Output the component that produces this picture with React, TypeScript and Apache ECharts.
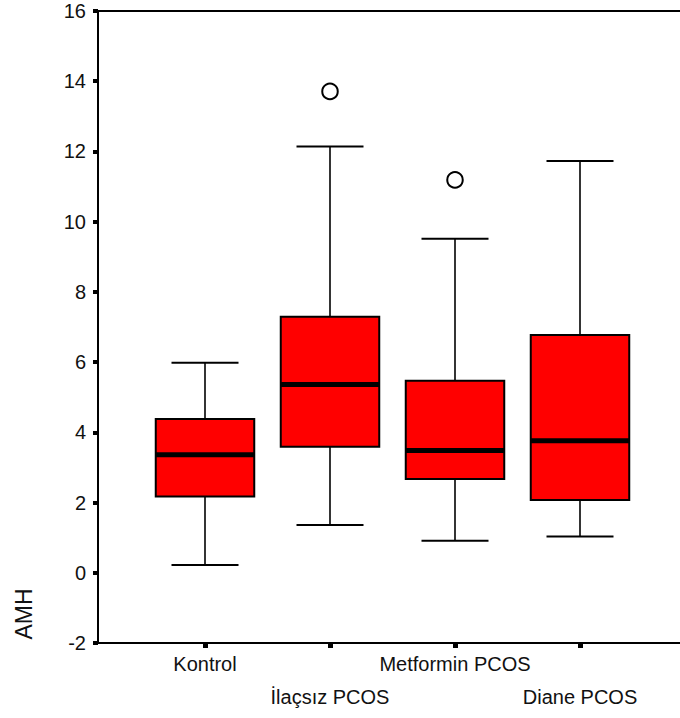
import React, { useEffect, useRef } from "react";
import * as echarts from "echarts";

const categories = ["Kontrol", "İlaçsız PCOS", "Metformin PCOS", "Diane PCOS"];
const whiskerLow = [0.22, 1.36, 0.91, 1.03];
const quartile1 = [2.17, 3.59, 2.67, 2.07];
const medians = [3.36, 5.36, 3.48, 3.76];
const quartile3 = [4.38, 7.29, 5.47, 6.77];
const whiskerHigh = [5.98, 12.14, 9.51, 11.73];
// [category index, value]
const outlierPoints: [number, number][] = [
  [1, 13.71],
  [2, 11.19],
];
const yMin = -2;
const yMax = 16;
const yInterval = 2;

const FONT = "'Liberation Sans', Arial, Helvetica, sans-serif";

export default function App() {
  const ref = useRef<HTMLDivElement>(null);

  useEffect(() => {
    document.body.style.margin = "0";
    if (!ref.current) return;
    const chart = echarts.init(ref.current, undefined, { renderer: "svg" });

    const boxData = categories.map((_, i) => [
      i + 1,
      whiskerLow[i],
      quartile1[i],
      medians[i],
      quartile3[i],
      whiskerHigh[i],
    ]);
    const catPositions = categories.map((_, i) => i + 1);
    const firstRow = catPositions.filter((_, i) => i % 2 === 0);
    const secondRow = catPositions.filter((_, i) => i % 2 === 1);
    const xMin = 1 - 107 / 125;
    const xMax = 4.8;
    const labelFmt = (v: number) => categories[Math.round(v) - 1] ?? "";
    const labelStyle = {
      fontFamily: FONT,
      fontSize: 20,
      color: "#111",
      hideOverlap: false,
    };

    const option: any = {
      animation: false,
      backgroundColor: "#ffffff",
      grid: { left: 98, right: 0, top: 11, bottom: 75, containLabel: false },
      xAxis: [
        {
          type: "value",
          position: "bottom",
          min: xMin,
          max: xMax,
          axisLine: { show: true, onZero: false, lineStyle: { color: "#000", width: 2 } },
          axisTick: {
            show: true,
            customValues: catPositions,
            length: 5,
            inside: false,
            lineStyle: { color: "#000", width: 5 },
          },
          axisLabel: {
            show: true,
            customValues: firstRow,
            margin: 11,
            formatter: labelFmt,
            ...labelStyle,
          },
          splitLine: { show: false },
        },
        {
          type: "value",
          position: "bottom",
          min: xMin,
          max: xMax,
          axisLine: { show: false, onZero: false },
          axisTick: { show: false },
          axisLabel: {
            show: true,
            customValues: secondRow,
            margin: 44,
            formatter: labelFmt,
            ...labelStyle,
          },
          splitLine: { show: false },
        },
        {
          type: "value",
          position: "top",
          min: xMin,
          max: xMax,
          axisLine: { show: true, onZero: false, lineStyle: { color: "#000", width: 2 } },
          axisTick: { show: false },
          axisLabel: { show: false },
          splitLine: { show: false },
        },
      ],
      yAxis: {
        type: "value",
        min: yMin,
        max: yMax,
        interval: yInterval,
        axisLine: { show: true, onZero: false, lineStyle: { color: "#000", width: 2 } },
        axisTick: { show: true, length: 5, lineStyle: { color: "#000", width: 4 } },
        axisLabel: {
          margin: 12,
          fontFamily: FONT,
          fontSize: 20,
          color: "#111",
        },
        splitLine: { show: false },
      },
      graphic: [
        {
          type: "text",
          x: 24,
          y: 614,
          rotation: Math.PI / 2,
          style: {
            text: "AMH",
            fontFamily: FONT,
            fontSize: 23,
            fill: "#111",
            align: "center",
            verticalAlign: "middle",
          },
        },
      ],
      series: [
        {
          type: "custom",
          xAxisIndex: 0,
          data: boxData,
          renderItem: (params: any, api: any) => {
            const x = api.value(0);
            const lo = api.value(1);
            const q1 = api.value(2);
            const med = api.value(3);
            const q3 = api.value(4);
            const hi = api.value(5);
            const pLo = api.coord([x, lo]);
            const pQ1 = api.coord([x, q1]);
            const pMed = api.coord([x, med]);
            const pQ3 = api.coord([x, q3]);
            const pHi = api.coord([x, hi]);
            const boxHalf = api.size([0.394, 0])[0];
            const capHalf = api.size([0.268, 0])[0];
            const cx = pMed[0];
            return {
              type: "group",
              children: [
                {
                  type: "line",
                  shape: { x1: cx, y1: pQ3[1], x2: cx, y2: pHi[1] },
                  style: { stroke: "#111", lineWidth: 1.7 },
                },
                {
                  type: "line",
                  shape: { x1: cx, y1: pQ1[1], x2: cx, y2: pLo[1] },
                  style: { stroke: "#111", lineWidth: 1.7 },
                },
                {
                  type: "line",
                  shape: { x1: cx - capHalf, y1: pHi[1], x2: cx + capHalf, y2: pHi[1] },
                  style: { stroke: "#000", lineWidth: 2 },
                },
                {
                  type: "line",
                  shape: { x1: cx - capHalf, y1: pLo[1], x2: cx + capHalf, y2: pLo[1] },
                  style: { stroke: "#000", lineWidth: 2 },
                },
                {
                  type: "rect",
                  shape: {
                    x: cx - boxHalf,
                    y: pQ3[1],
                    width: boxHalf * 2,
                    height: pQ1[1] - pQ3[1],
                  },
                  style: { fill: "#ff0000", stroke: "#000", lineWidth: 2 },
                },
                {
                  type: "line",
                  shape: { x1: cx - boxHalf, y1: pMed[1], x2: cx + boxHalf, y2: pMed[1] },
                  style: { stroke: "#000", lineWidth: 5 },
                },
              ],
            };
          },
        },
        {
          type: "scatter",
          xAxisIndex: 0,
          data: outlierPoints.map(([i, v]) => [i + 1, v]),
          symbol: "circle",
          symbolSize: 15.5,
          itemStyle: { color: "#ffffff", borderColor: "#000", borderWidth: 2, opacity: 1 },
          z: 5,
        },
      ],
    };

    chart.setOption(option);
    return () => chart.dispose();
  }, []);

  return <div ref={ref} style={{ width: 680, height: 718 }} />;
}
